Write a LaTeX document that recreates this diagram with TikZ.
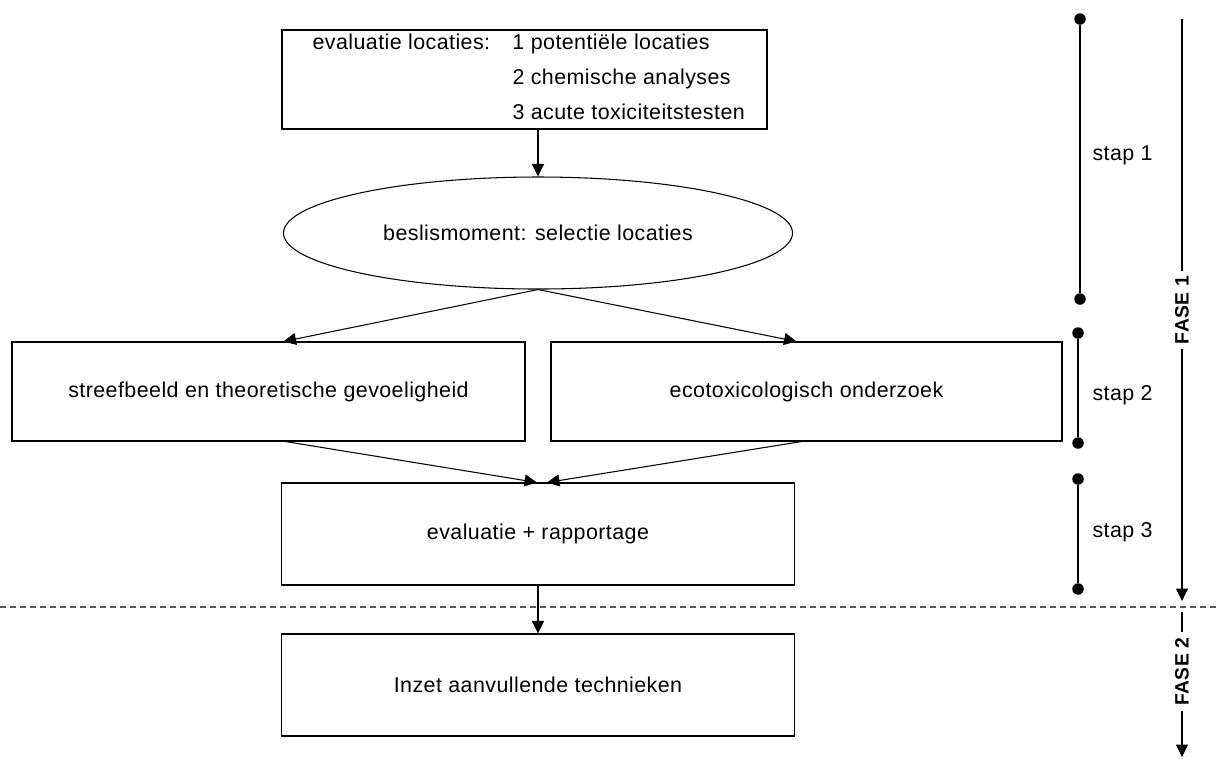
\documentclass[tikz,border=0pt]{standalone}
\usepackage{fontspec}
\setmainfont{Liberation Sans}[LetterSpace=2]
\usetikzlibrary{arrows.meta,shapes.geometric,calc}

\begin{document}
\begin{tikzpicture}[x=0.2mm,y=-0.2mm,line width=0.6pt,
  font=\fontsize{12.2}{14.8}\selectfont,
  box/.style={draw,rectangle,minimum height=19.8mm,inner sep=0pt},
  pijl/.style={-{Triangle[length=2.5mm,width=2.4mm]}},
  stip/.style={circle,fill,inner sep=0pt,minimum size=2.3mm},
  fase/.style={fill=white,rotate=90,inner sep=1mm,font=\bfseries\fontsize{11}{13}\selectfont}]
\useasboundingbox (0,0) rectangle (1216,758);

\node[box,minimum width=97mm] (eval) at (524.5,79.5) {};
\node[anchor=west,inner sep=0pt] (evaltxt) at (312,79.5) {\begin{tabular}{@{}p{40mm}@{}l@{}}
evaluatie locaties: & 1 potenti\"ele locaties\\[5.2pt]
 & 2 chemische analyses\\[5.2pt]
 & 3 acute toxiciteitstesten
\end{tabular}};
\node[draw,ellipse,inner sep=0pt,minimum width=101.8mm,minimum height=22.4mm] (beslis) at (538,233) {beslismoment: selectie locaties};
\node[box,minimum width=102.6mm] (streef) at (268.5,391.5) {streefbeeld en theoretische gevoeligheid};
\node[box,minimum width=102.2mm] (eco) at (806.5,391.5) {ecotoxicologisch onderzoek};
\node[box,minimum width=102.6mm,minimum height=20.4mm] (rapp) at (538,534) {evaluatie + rapportage};
\node[box,minimum width=102.6mm,minimum height=20.4mm] (inzet) at (538,685) {Inzet aanvullende technieken};

\draw[pijl] (beslis.north |- eval.south) -- (beslis.north);
\draw[pijl] (beslis.south) -- ($(streef.north)+(15,0)$);
\draw[pijl] (beslis.south) -- ($(eco.north)+(-10,0)$);
\draw[pijl] ($(streef.south)+(17,0)$) -- ($(rapp.north)+(-1,0)$);
\draw[pijl] ($(eco.south)+(-5,0)$) -- ($(rapp.north)+(9,0)$);
\draw[pijl] (rapp.south) -- (inzet.north);

\draw[black!65,dash pattern=on 1.2mm off 0.8mm] (0,607) -- (1216,607);

\node[stip] (s1a) at (1080,19) {};
\node[stip] (s1b) at (1080,299) {};
\node[stip] (s2a) at (1078,333) {};
\node[stip] (s2b) at (1078,443) {};
\node[stip] (s3a) at (1078,479) {};
\node[stip] (s3b) at (1078,589) {};
\draw (s1a) -- (s1b);
\draw (s2a) -- (s2b);
\draw (s3a) -- (s3b);
\node[anchor=west,inner sep=0pt] (stap1) at (1092,155) {stap 1};
\node[anchor=west,inner sep=0pt] (stap2) at (1092,395) {stap 2};
\node[anchor=west,inner sep=0pt] (stap3) at (1092,532) {stap 3};

\coordinate (f1a) at (1182,19);
\coordinate (f1b) at (1182,601);
\coordinate (f2a) at (1182,612);
\coordinate (f2b) at (1182,757);
\draw[pijl] (f1a) -- node[fase] (fase1) {FASE 1} (f1b);
\draw[pijl] (f2a) -- node[fase,pos=0.41] (fase2) {FASE 2} (f2b);
\end{tikzpicture}
\end{document}
